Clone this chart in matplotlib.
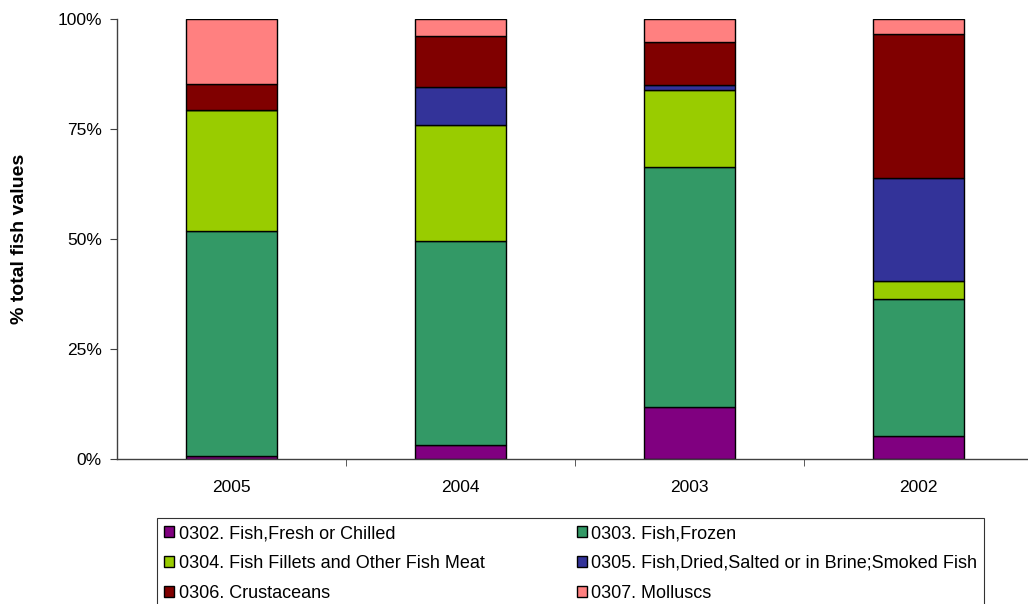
import matplotlib
matplotlib.use('Agg')
import matplotlib.pyplot as plt
import numpy as np
from matplotlib.ticker import FixedLocator, PercentFormatter

plt.rcParams['font.family'] = ['Liberation Sans', 'DejaVu Sans']

# Share of total fish values (%) per year
years = ['2005', '2004', '2003', '2002']
series_names = [
    '0302. Fish,Fresh or Chilled',
    '0303. Fish,Frozen',
    '0304. Fish Fillets and Other Fish Meat',
    '0305. Fish,Dried,Salted or in Brine;Smoked Fish',
    '0306. Crustaceans',
    '0307. Molluscs',
]
fresh = [0.75, 3.2, 11.9, 5.2]
frozen = [51.05, 46.4, 54.5, 31.2]
fillets = [27.5, 26.3, 17.5, 4.1]
dried = [0.0, 8.6, 1.2, 23.3]
crustaceans = [5.9, 11.7, 9.6, 32.8]
molluscs = [14.8, 3.8, 5.3, 3.4]
colors = ['#800080', '#339966', '#99CC00', '#333399', '#800000', '#FF8080']

fig = plt.figure(figsize=(10.28, 6.04), dpi=100)
ax = fig.add_axes([117 / 1028, 1 - 459 / 604, 916 / 1028, 440 / 604])

x = np.arange(len(years))
bottom = np.zeros(len(years))
bars = []
for name, vals, c in zip(series_names,
                         [fresh, frozen, fillets, dried, crustaceans, molluscs],
                         colors):
    vals = np.array(vals)
    b = ax.bar(x, vals, 0.4, bottom=bottom, color=c, edgecolor='black',
               linewidth=1.0, label=name)
    bars.append(b)
    bottom += vals

ax.set_xlim(-0.5, 3.5)
ax.set_ylim(0, 100)
ax.set_yticks([0, 25, 50, 75, 100])
ax.yaxis.set_major_formatter(PercentFormatter(decimals=0))
ax.set_xticks(x)
ax.set_xticklabels(years)
ax.xaxis.set_minor_locator(FixedLocator([0.5, 1.5, 2.5]))
ax.tick_params(axis='x', which='major', length=0, pad=15, labelsize=12.5)
ax.tick_params(axis='x', which='minor', length=5, direction='out', color='#404040')
ax.tick_params(axis='y', length=5, direction='out', pad=6, labelsize=12.5, color='#404040')

for s in ['top', 'right']:
    ax.spines[s].set_visible(False)
for s in ['left', 'bottom']:
    ax.spines[s].set_color('#404040')
    ax.spines[s].set_linewidth(1.0)

ax.set_ylabel('% total fish values', fontsize=14, fontweight='bold')
ax.yaxis.set_label_coords((28 - 117) / 916, 0.5)

# legend filled row by row, like the original
order = [0, 2, 4, 1, 3, 5]
leg = fig.legend([bars[i] for i in order], [series_names[i] for i in order],
                 loc='upper left', ncol=2,
                 bbox_to_anchor=(157 / 1028, 1 - 518 / 604),
                 fontsize=13, frameon=True, fancybox=False,
                 edgecolor='black', handlelength=0.55, handleheight=0.55,
                 handletextpad=0.25, labelspacing=0.7, borderpad=0.4,
                 columnspacing=5.1, borderaxespad=0)
leg.get_frame().set_linewidth(0.8)

fig.savefig('out.png', dpi=100)
